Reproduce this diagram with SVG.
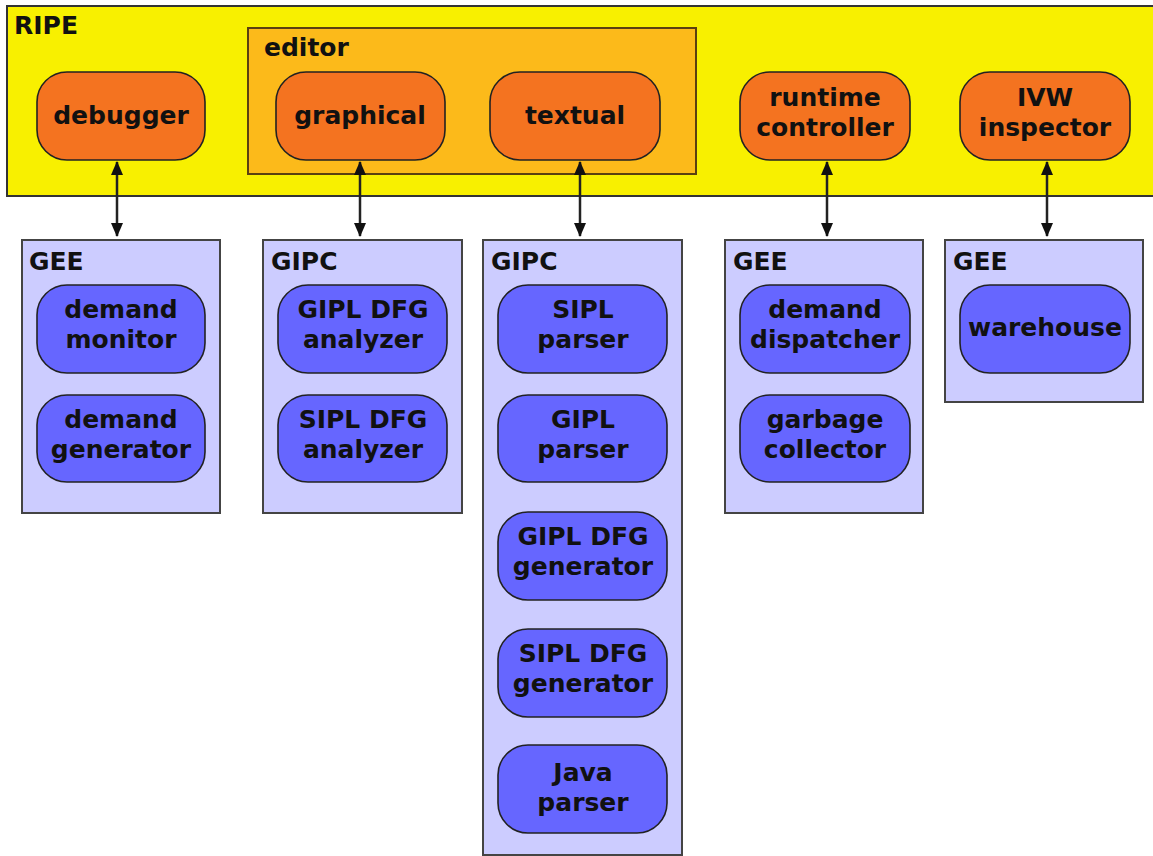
<svg xmlns="http://www.w3.org/2000/svg" width="1153" height="856" viewBox="0 0 1153 856">
<defs>
<style>
text{font-family:"DejaVu Sans","Verdana",sans-serif;font-weight:bold;font-size:25px;fill:#111;}
.c{text-anchor:middle;}
.ripe{fill:#f8f000;stroke:#333;stroke-width:2;}
.ed{fill:#fcba1a;stroke:#5a4010;stroke-width:2;}
.on{fill:#f47320;stroke:#222;stroke-width:1.6;}
.grp{fill:#ccccff;stroke:#444;stroke-width:2;}
.bn{fill:#6666ff;stroke:#222;stroke-width:1.6;}
.conn{stroke:#222;stroke-width:2.5;fill:none;marker-start:url(#ah);marker-end:url(#ah);}
</style>
<marker id="ah" viewBox="0 0 14 14" refX="13" refY="7" markerWidth="14" markerHeight="14" markerUnits="userSpaceOnUse" orient="auto-start-reverse">
<path d="M0,1 L14,7 L0,13 Z" fill="#111"/>
</marker>
</defs>
<rect x="0" y="0" width="1153" height="856" fill="#fff"/>
<g id="RIPE">
<rect class="ripe" x="7" y="6" width="1152" height="190"/>
<text x="14" y="34">RIPE</text>
</g>
<g id="editor">
<rect class="ed" x="248" y="28" width="448" height="146"/>
<text x="264" y="56">editor</text>
</g>
<g id="debugger"><rect class="on" x="37" y="72" width="168" height="88" rx="30"/><text class="c" x="121" y="124">debugger</text></g>
<g id="graphical"><rect class="on" x="276" y="72" width="169" height="88" rx="30"/><text class="c" x="360" y="124">graphical</text></g>
<g id="textual"><rect class="on" x="490" y="72" width="170" height="88" rx="30"/><text class="c" x="575" y="124">textual</text></g>
<g id="runtime"><rect class="on" x="740" y="72" width="170" height="88" rx="30"/><text class="c" x="825" y="106">runtime</text><text class="c" x="825" y="136">controller</text></g>
<g id="ivw"><rect class="on" x="960" y="72" width="170" height="88" rx="30"/><text class="c" x="1045" y="106">IVW</text><text class="c" x="1045" y="136">inspector</text></g>

<g id="gee1">
<rect class="grp" x="22" y="240" width="198" height="273"/>
<text x="29" y="270">GEE</text>
</g>
<g id="demand-monitor"><rect class="bn" x="37" y="285" width="168" height="88" rx="30"/><text class="c" x="121" y="318">demand</text><text class="c" x="121" y="348">monitor</text></g>
<g id="demand-generator"><rect class="bn" x="37" y="395" width="168" height="87" rx="30"/><text class="c" x="121" y="428">demand</text><text class="c" x="121" y="458">generator</text></g>

<g id="gipc1">
<rect class="grp" x="263" y="240" width="199" height="273"/>
<text x="271" y="270">GIPC</text>
</g>
<g id="gipl-dfg-analyzer"><rect class="bn" x="278" y="285" width="169" height="88" rx="30"/><text class="c" x="363" y="318">GIPL DFG</text><text class="c" x="363" y="348">analyzer</text></g>
<g id="sipl-dfg-analyzer"><rect class="bn" x="278" y="395" width="169" height="87" rx="30"/><text class="c" x="363" y="428">SIPL DFG</text><text class="c" x="363" y="458">analyzer</text></g>

<g id="gipc2">
<rect class="grp" x="483" y="240" width="199" height="615"/>
<text x="491" y="270">GIPC</text>
</g>
<g id="sipl-parser"><rect class="bn" x="498" y="285" width="169" height="88" rx="30"/><text class="c" x="583" y="318">SIPL</text><text class="c" x="583" y="348">parser</text></g>
<g id="gipl-parser"><rect class="bn" x="498" y="395" width="169" height="87" rx="30"/><text class="c" x="583" y="428">GIPL</text><text class="c" x="583" y="458">parser</text></g>
<g id="gipl-dfg-generator"><rect class="bn" x="498" y="512" width="169" height="88" rx="30"/><text class="c" x="583" y="545">GIPL DFG</text><text class="c" x="583" y="575">generator</text></g>
<g id="sipl-dfg-generator"><rect class="bn" x="498" y="629" width="169" height="88" rx="30"/><text class="c" x="583" y="662">SIPL DFG</text><text class="c" x="583" y="692">generator</text></g>
<g id="java-parser"><rect class="bn" x="498" y="745" width="169" height="88" rx="30"/><text class="c" x="583" y="781">Java</text><text class="c" x="583" y="811">parser</text></g>

<g id="gee2">
<rect class="grp" x="725" y="240" width="198" height="273"/>
<text x="733" y="270">GEE</text>
</g>
<g id="demand-dispatcher"><rect class="bn" x="740" y="285" width="170" height="88" rx="30"/><text class="c" x="825" y="318">demand</text><text class="c" x="825" y="348">dispatcher</text></g>
<g id="garbage-collector"><rect class="bn" x="740" y="395" width="170" height="87" rx="30"/><text class="c" x="825" y="428">garbage</text><text class="c" x="825" y="458">collector</text></g>

<g id="gee3">
<rect class="grp" x="945" y="240" width="198" height="162"/>
<text x="953" y="270">GEE</text>
</g>
<g id="warehouse"><rect class="bn" x="960" y="285" width="170" height="88" rx="30"/><text class="c" x="1045" y="336">warehouse</text></g>

<g id="connectors">
<line class="conn" x1="117" y1="162" x2="117" y2="236"/>
<line class="conn" x1="360" y1="162" x2="360" y2="236"/>
<line class="conn" x1="580" y1="162" x2="580" y2="236"/>
<line class="conn" x1="827" y1="162" x2="827" y2="236"/>
<line class="conn" x1="1047" y1="162" x2="1047" y2="236"/>
</g>
</svg>
